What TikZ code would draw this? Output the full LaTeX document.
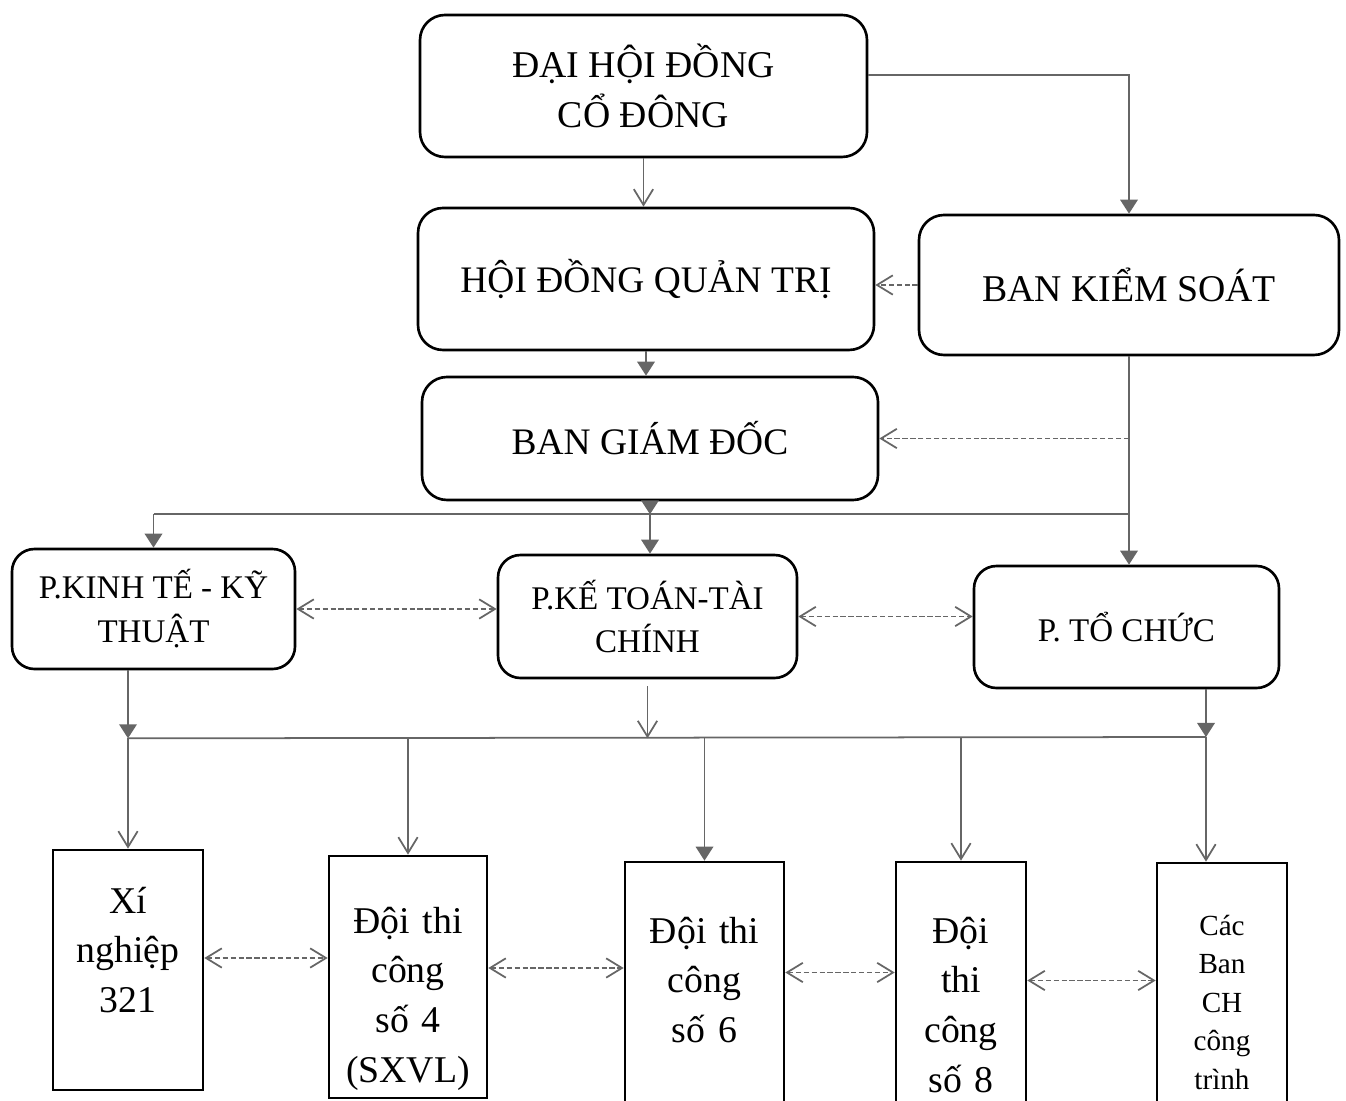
\documentclass[tikz,border=0pt]{standalone}
\usepackage{fontspec}
\setmainfont{Liberation Serif}
\usetikzlibrary{arrows.meta,calc}

\tikzset{
  boxwh/.style 2 args={minimum width=#1*0.02cm, minimum height=#2*0.02cm},
  unitwh/.style 2 args={text width=#1*0.02cm, minimum height=#2*0.02cm},
  organ/.style={draw, line width=1.5pt, rounded corners=0.5cm, align=center, inner sep=0pt},
  dept/.style={organ, rounded corners=0.45cm, font=\fontsize{18.8pt}{25pt}\selectfont},
  unit/.style={draw, line width=1.5pt, align=center, inner sep=0pt, text height=0.4cm, font=\fontsize{21.5pt}{28.3pt}\selectfont},
  link/.style={draw=black!60, line width=1pt},
  tri/.style={link, -{Triangle[length=8pt,width=10pt]}},
  vee/.style={link, -{Straight Barb[length=9pt,width=11pt]}},
  dashto/.style={vee, dash pattern=on 3pt off 1.5pt},
  peer/.style={link, dash pattern=on 3pt off 1.5pt, {Straight Barb[length=9pt,width=11pt]}-{Straight Barb[length=9pt,width=11pt]}},
}

\begin{document}
\begin{tikzpicture}[x=0.02cm, y=-0.02cm]
	%%%%% START %%%%%
	\useasboundingbox (0,0) rectangle (1346,1101);
	\clip (0,0) rectangle (1346,1101);
	
	% management
	\node[organ, boxwh={447}{142}, font=\fontsize{21.5pt}{28.5pt}\selectfont] (dhdcd) at (643.5,86) {ĐẠI HỘI ĐỒNG\\CỔ ĐÔNG};
	\node[organ, boxwh={456}{142}, font=\fontsize{21.3pt}{26pt}\selectfont] (hdqt) at (646,279) {HỘI ĐỒNG QUẢN TRỊ};
	\node[organ, boxwh={420}{140}, font=\fontsize{21.5pt}{26pt}\selectfont] (bks) at (1129,285) {BAN KIỂM SOÁT};
	\node[organ, boxwh={456}{123}, font=\fontsize{21.3pt}{26pt}\selectfont] (bgd) at (650,438.5) {BAN GIÁM ĐỐC};
	
	% departments
	\node[dept, boxwh={283}{120}] (pktkt) at (153.5,609) {P.KINH TẾ - KỸ\\THUẬT};
	\node[dept, boxwh={299}{123}] (pkttc) at (647.5,616.5) {P.KẾ TOÁN-TÀI\\CHÍNH};
	\node[dept, boxwh={305}{122}] (ptc) at (1126.5,627) {P. TỔ CHỨC};
	
	% units
	\node[unit, unitwh={150}{240}, text depth=2.68cm] (xn) at (128,970) {Xí\\nghiệp\\321};
	\node[unit, unitwh={158}{242}, text depth=2.16cm] (d4) at (408,977) {Đội thi\\công\\số 4\\(SXVL)};
	\node[unit, unitwh={159}{253}, text depth=2.22cm] (d6) at (704.5,988.5) {Đội thi\\công\\số 6};
	\node[unit, unitwh={130}{253}, text depth=2.22cm] (d8) at (961,988.5) {Đội\\thi\\công\\số 8};
	\node[unit, unitwh={130}{252}, text depth=2.56cm, font=\fontsize{16.6pt}{22pt}\selectfont] (cb) at (1222,989) {Các\\Ban\\CH\\công\\trình};
	
	\coordinate (tbus) at ($(bgd.south)+(0,13)$);
	\coordinate (lbus) at ($(pkttc.south)+(0,59)$);
	\coordinate (rdrop) at (1206,737);
	
	% top links
	\draw[vee] (dhdcd.south) -- (dhdcd.south |- hdqt.north);
	\draw[tri] ($(dhdcd.east)+(0,-11)$) -| (bks.north);
	\draw[dashto] (bks.west) -- (bks.west -| hdqt.east);
	\draw[tri] (hdqt.south) -- (hdqt.south |- bgd.north);
	\draw[tri] (bks.south) -- (bks.south |- ptc.north);
	\draw[dashto] (bks.south |- bgd.east) -- (bgd.east);
	
	\draw[link] (pktkt.north |- tbus) -- (bks.south |- tbus);
	\draw[tri] (pktkt.north |- tbus) -- (pktkt.north);
	\draw[tri] (bgd.south) -- (tbus);
	\draw[tri] (tbus) -- (tbus |- pkttc.north);
	
	\draw[peer] (pktkt.east) -- (pktkt.east -| pkttc.west);
	\draw[peer] (pkttc.east) -- (pkttc.east -| ptc.west);
	
	% lower links
	\draw[link] (xn.north |- lbus) -- (rdrop);
	\draw[tri] (xn.north |- pktkt.south) -- (xn.north |- lbus);
	\draw[vee] (xn.north |- lbus) -- (xn.north);
	\draw[vee] ($(pkttc.south)+(0,7)$) -- (lbus);
	\draw[vee] (d4.north |- lbus) -- (d4.north);
	\draw[tri] (d6.north |- lbus) -- (d6.north);
	\draw[vee] (d8.north |- lbus) -- (d8.north);
	\draw[tri] (rdrop |- ptc.south) -- (rdrop);
	\draw[vee] (rdrop) -- (rdrop |- cb.north);
	
	\coordinate (p1) at ($(xn.east)+(0,-12)$);
	\coordinate (p2) at ($(d4.east)+(0,-9)$);
	\coordinate (p3) at ($(d6.east)+(0,-16)$);
	\coordinate (p4) at ($(d8.east)+(0,-8)$);
	\draw[peer] (p1) -- (p1 -| d4.west);
	\draw[peer] (p2) -- (p2 -| d6.west);
	\draw[peer] (p3) -- (p3 -| d8.west);
	\draw[peer] (p4) -- (p4 -| cb.west);
	%%%%% END %%%%%
\end{tikzpicture}
\end{document}
